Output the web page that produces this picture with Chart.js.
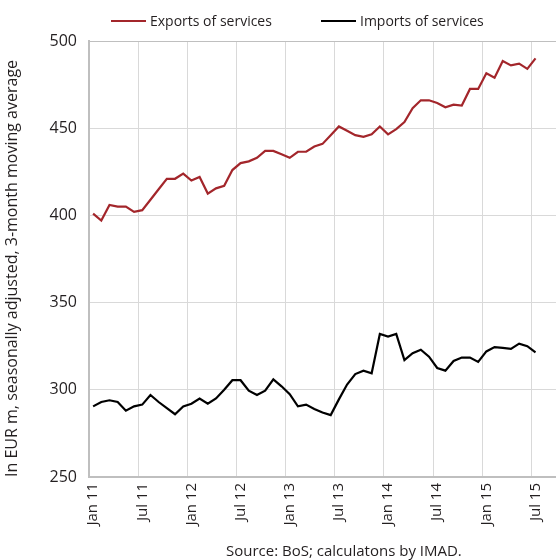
<!DOCTYPE html>
<html>
<head>
<meta charset="utf-8">
<title>Exports and imports of services</title>
<script src="https://cdn.jsdelivr.net/npm/chart.js@4.4.1/dist/chart.umd.min.js"></script>
<style>
  html, body { margin: 0; padding: 0; background: #fff; }
  #wrap { position: relative; width: 556px; height: 560px; font-family: "Open Sans", sans-serif; color: #231f20; }
  #chart { position: absolute; left: 0; top: 0; }
  .legend-item { position: absolute; top: 11px; font-size: 14px; line-height: 20px; white-space: nowrap; }
  .legend-item .swatch { display: inline-block; width: 35px; height: 2px; vertical-align: middle; margin-right: 4px; position: relative; top: -1px; }
  #source { position: absolute; left: 226px; top: 540px; font-size: 15px; line-height: 20px; white-space: nowrap; }
</style>
</head>
<body>
<div id="wrap">
  <canvas id="chart" width="556" height="560"></canvas>
  <div class="legend-item" style="left:111px"><span class="swatch" style="background:#a3262b"></span>Exports of services</div>
  <div class="legend-item" style="left:321px"><span class="swatch" style="background:#000"></span>Imports of services</div>
  <div id="source">Source: BoS; calculatons by IMAD.</div>
</div>
<script>
const years = ["11", "12", "13", "14", "15"];
const monthNames = ["Jan", "Feb", "Mar", "Apr", "May", "Jun", "Jul", "Aug", "Sep", "Oct", "Nov", "Dec"];
const tickLabels = ["Jan 11", "Jul 11", "Jan 12", "Jul 12", "Jan 13", "Jul 13", "Jan 14", "Jul 14", "Jan 15", "Jul 15"];

// Jan 11 .. Sep 15 (the plot runs a little past the last value)
const categories = [];
for (const y of years) {
  for (const m of monthNames) {
    if (categories.length < 57) {
      categories.push(`${m} ${y}`);
    }
  }
}

// EUR m, seasonally adjusted, 3-month moving average
const exportsData = [
  401, 397, 406, 405, 405, 402,
  403, 409, 415, 421, 421, 424,
  420, 422, 412.5, 415.5, 417, 426,
  430, 431, 433, 437, 437, 435,
  433, 436.5, 436.5, 439.5, 441, 446,
  451, 448.5, 446, 445, 446.5, 451,
  446.5, 449.5, 453.5, 461.5, 466, 466,
  464.5, 462, 463.5, 463, 472.5, 472.5,
  481.5, 479, 488.5, 486, 487, 484,
  490,
];
const importsData = [
  290.5, 293, 294, 293, 288, 290.5,
  291.5, 297, 293, 289.5, 286, 290.5,
  292, 295, 292, 295, 300, 305.5,
  305.5, 299.5, 297, 299.5, 306, 302,
  297.5, 290.5, 291.5, 289, 287, 285.5,
  294.5, 303, 309, 311, 309.5, 332,
  330.5, 332, 317, 321, 323, 319,
  312.5, 311, 316.5, 318.5, 318.5, 316,
  322, 324.5, 324, 323.5, 326.5, 325,
  321.5,
];

const RED = "#a3262b";
const TEXT = "#231f20";
const GRID = "#d9d9d9";
const AXIS = "#bfbfbf";
const FONT = { family: "'Open Sans', sans-serif", size: 15 };
const FONT_Y = { family: "'Open Sans', sans-serif", size: 16 };

new Chart(document.getElementById("chart"), {
  type: "line",
  data: {
    labels: categories,
    datasets: [
      {
        label: "Exports of services",
        data: exportsData,
        borderColor: RED,
        backgroundColor: RED,
        borderWidth: 2.2,
        pointRadius: 0,
        tension: 0,
        fill: false,
      },
      {
        label: "Imports of services",
        data: importsData,
        borderColor: "#000",
        backgroundColor: "#000",
        borderWidth: 2.2,
        pointRadius: 0,
        tension: 0,
        fill: false,
      },
    ],
  },
  options: {
    responsive: false,
    animation: false,
    layout: { padding: { top: 41, right: 0, bottom: 30, left: 0 } },
    plugins: {
      legend: { display: false },
      tooltip: { enabled: false },
    },
    scales: {
      x: {
        offset: true,
        grid: {
          offset: true,
          drawTicks: false,
          color: (ctx) => (tickLabels.includes(categories[ctx.index]) ? GRID : "transparent"),
        },
        border: { color: AXIS, width: 2 },
        ticks: {
          autoSkip: false,
          minRotation: 90,
          maxRotation: 90,
          padding: 6,
          color: TEXT,
          font: FONT,
          callback: (value, index) => (tickLabels.includes(categories[index]) ? categories[index] : ""),
        },
        afterFit: (scale) => {
          scale.height = 53;
          scale.paddingLeft = 0;
          scale.paddingRight = 0;
        },
      },
      y: {
        min: 250,
        max: 500,
        grid: {
          drawTicks: false,
          color: (ctx) => (ctx.tick && ctx.tick.value === 500 ? AXIS : GRID),
        },
        border: { color: AXIS, width: 2 },
        ticks: { stepSize: 50, padding: 12, color: TEXT, font: FONT_Y },
        title: {
          display: true,
          align: "start",
          text: "In EUR m, seasonally adjusted, 3-month moving average",
          color: TEXT,
          font: FONT_Y,
          padding: { top: 3, bottom: 0 },
        },
        afterFit: (scale) => {
          scale.width = 89;
        },
      },
    },
  },
});
</script>
</body>
</html>
